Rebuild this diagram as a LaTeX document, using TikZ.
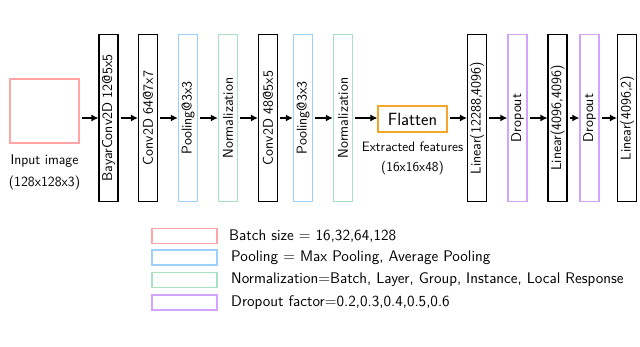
\documentclass[tikz,border=0pt]{standalone}
\usepackage{xcolor}
\usepackage{tikz}
\usetikzlibrary{arrows.meta}
\definecolor{lred}{HTML}{FFA5A5}
\definecolor{lblue}{HTML}{9DCFFF}
\definecolor{lgreen}{HTML}{A8E2C2}
\definecolor{lpurple}{HTML}{D2A4FF}
\definecolor{lorange}{HTML}{F5A52A}

\begin{document}
\begin{tikzpicture}[x=1pt, y=-1pt, >=Stealth,
  layer/.style={rotate=90, minimum width=167pt, minimum height=19pt, inner sep=0pt,
                font=\sffamily\fontsize{14.2}{16}\selectfont},
  convbox/.style={layer, draw=black, line width=1.1pt},
  poolbox/.style={layer, draw=lblue, line width=1.5pt},
  normbox/.style={layer, draw=lgreen, line width=1.5pt},
  dropbox/.style={layer, draw=lpurple, line width=1.5pt},
  lbl/.style={align=center, font=\sffamily\fontsize{14}{22}\selectfont},
  key/.style={minimum width=65pt, minimum height=15pt, inner sep=0pt, line width=1.5pt},
  legtxt/.style={anchor=west, inner sep=0pt, font=\sffamily\fontsize{15.4}{18}\selectfont},
  arr/.style={-{Latex[length=7pt, width=7pt]}, line width=1.1pt, shorten <=2pt}]
  \useasboundingbox (0,0) rectangle (640,346);
  % --- input
  \node[draw=lred, line width=1.5pt, minimum width=69pt, minimum height=64pt] (in) at (44.5,111) {};
  \node[lbl] (inlbl) at (44.5,172) {Input image\\(128x128x3)};
  % --- convolution part
  \node[convbox] (bayar) at (108.5,118) {BayarConv2D 12@5x5};
  \node[convbox] (conva) at (148,118)   {Conv2D 64@7x7};
  \node[poolbox] (poola) at (188,118)   {Pooling@3x3};
  \node[normbox] (norma) at (228,118)   {Normalization};
  \node[convbox] (convb) at (268,118)   {Conv2D 48@5x5};
  \node[poolbox] (poolb) at (303,118)   {Pooling@3x3};
  \node[normbox] (normb) at (343,118)   {Normalization};
  % --- flatten
  \node[draw=lorange, line width=1.2pt, minimum width=69pt, minimum height=26pt,
        font=\sffamily\fontsize{17.7}{20}\selectfont] (flat) at (412.5,119) {Flatten};
  \node[lbl, font=\sffamily\fontsize{13.6}{20}\selectfont] (featlbl) at (412.5,158) {Extracted features\\(16x16x48)};
  % --- classifier part
  \node[convbox] (lina)  at (477,118)   {Linear(12288,4096)};
  \node[dropbox] (dropa) at (517.5,118) {Dropout};
  \node[convbox] (linb)  at (557.5,118) {Linear(4096,4096)};
  \node[dropbox] (dropb) at (589.5,118) {Dropout};
  \node[convbox] (linc)  at (627,118)   {Linear(4096,2)};
  \draw[arr] (in.east |- bayar) -- (bayar);
  \draw[arr] (bayar) -- (conva);
  \draw[arr] (conva) -- (poola);
  \draw[arr] (poola) -- (norma);
  \draw[arr] (norma) -- (convb);
  \draw[arr] (convb) -- (poolb);
  \draw[arr] (poolb) -- (normb);
  \draw[arr] (normb) -- (normb -| flat.west);
  \draw[arr] (flat.east |- lina) -- (lina);
  \draw[arr] (lina)  -- (dropa);
  \draw[arr] (dropa) -- (linb);
  \draw[arr] (linb)  -- (dropb);
  \draw[arr] (dropb) -- (linc);
  % --- legend
  \node[key, draw=lred]    (kbatch) at (184.5,236)   {};
  \node[key, draw=lblue]   (kpool)  at (184.5,257.5) {};
  \node[key, draw=lgreen]  (knorm)  at (184.5,280)   {};
  \node[key, draw=lpurple] (kdrop)  at (184.5,302.5) {};
  \node[legtxt] (tbatch) at (229,236)   {Batch size = 16,32,64,128};
  \node[legtxt] (tpool)  at (231,257.5) {Pooling = Max Pooling, Average Pooling};
  \node[legtxt] (tnorm)  at (231,280)   {Normalization=Batch, Layer, Group, Instance, Local Response};
  \node[legtxt] (tdrop)  at (231,302.5) {Dropout factor=0.2,0.3,0.4,0.5,0.6};
\end{tikzpicture}
\end{document}
